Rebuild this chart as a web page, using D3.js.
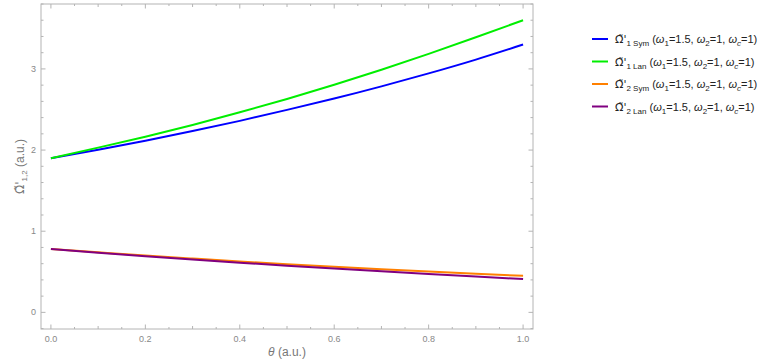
<!DOCTYPE html>
<html>
<head>
<meta charset="utf-8">
<script src="https://cdn.jsdelivr.net/npm/d3@7"></script>
<style>
  body { margin: 0; background: #fff; }
  svg { display: block; font-family: "Liberation Sans", "DejaVu Sans", sans-serif; }
  .tick-label { fill: #888; font-size: 9px; }
  .axis-title { fill: #777; font-size: 12px; }
  .legend-text { fill: #222; font-size: 11px; }
  .omega { font-family: "DejaVu Sans", sans-serif; }
</style>
</head>
<body>
<svg id="chart" width="763" height="363"></svg>
<script>
// values
const THETA = [0, 0.1, 0.2, 0.3, 0.4, 0.5, 0.6, 0.7, 0.8, 0.9, 1.0];
const OMEGA_1_SYM = [1.90, 2.005, 2.115, 2.235, 2.36, 2.495, 2.635, 2.785, 2.945, 3.115, 3.30];
const OMEGA_1_LAN = [1.90, 2.03, 2.165, 2.31, 2.465, 2.63, 2.805, 2.99, 3.185, 3.39, 3.60];
const OMEGA_2_SYM = [0.78, 0.74, 0.70, 0.663, 0.627, 0.593, 0.562, 0.532, 0.503, 0.476, 0.45];
const OMEGA_2_LAN = [0.78, 0.735, 0.692, 0.651, 0.612, 0.575, 0.54, 0.506, 0.473, 0.441, 0.41];

const X_TICKS = [0, 0.2, 0.4, 0.6, 0.8, 1.0];
const Y_TICKS = [0, 1, 2, 3];

const SERIES = [
  { sub: '1 Sym', values: OMEGA_1_SYM, color: '#0000ff' },
  { sub: '1 Lan', values: OMEGA_1_LAN, color: '#00ee00' },
  { sub: '2 Sym', values: OMEGA_2_SYM, color: '#ff8000' },
  { sub: '2 Lan', values: OMEGA_2_LAN, color: '#800080' }
];

const frame = { left: 41, right: 533, top: 4, bottom: 329 };

const svg = d3.select('#chart');

const xScale = d3.scaleLinear().domain([-0.021, 1.021]).range([frame.left, frame.right]);
const yScale = d3.scaleLinear().domain([-0.205, 3.8]).range([frame.bottom, frame.top]);

// frame
svg.append('rect')
  .attr('x', frame.left).attr('y', frame.top)
  .attr('width', frame.right - frame.left).attr('height', frame.bottom - frame.top)
  .attr('fill', 'none').attr('stroke', '#b4b4b4').attr('stroke-width', 1);

// ticks on all four sides
const ticksG = svg.append('g').attr('stroke', '#b4b4b4').attr('stroke-width', 1);
d3.range(0, 1.0001, 0.05).forEach((t) => {
  const major = X_TICKS.some((m) => Math.abs(m - t) < 1e-6);
  const half = Math.abs(Math.round(t * 10) - t * 10) < 1e-6;
  const len = major ? 4.5 : (half ? 3 : 2);
  const x = xScale(t);
  ticksG.append('line').attr('x1', x).attr('x2', x).attr('y1', frame.bottom).attr('y2', frame.bottom - len);
  ticksG.append('line').attr('x1', x).attr('x2', x).attr('y1', frame.top).attr('y2', frame.top + len);
});
d3.range(-0.2, 3.8001, 0.2).forEach((t) => {
  const major = Y_TICKS.some((m) => Math.abs(m - t) < 1e-6);
  const len = major ? 4.5 : 2.5;
  const y = yScale(t);
  ticksG.append('line').attr('x1', frame.left).attr('x2', frame.left + len).attr('y1', y).attr('y2', y);
  ticksG.append('line').attr('x1', frame.right).attr('x2', frame.right - len).attr('y1', y).attr('y2', y);
});

// tick labels
svg.append('g').selectAll('text')
  .data(X_TICKS)
  .enter()
  .append('text')
    .attr('class', 'tick-label')
    .attr('x', (d) => xScale(d))
    .attr('y', frame.bottom + 13)
    .attr('text-anchor', 'middle')
    .text((d) => d.toFixed(1));

svg.append('g').selectAll('text')
  .data(Y_TICKS)
  .enter()
  .append('text')
    .attr('class', 'tick-label')
    .attr('x', frame.left - 5)
    .attr('y', (d) => yScale(d) + 3)
    .attr('text-anchor', 'end')
    .text((d) => d);

// axis titles
const xTitle = svg.append('text')
  .attr('class', 'axis-title')
  .attr('x', (frame.left + frame.right) / 2)
  .attr('y', 356)
  .attr('text-anchor', 'middle');
xTitle.append('tspan').attr('font-style', 'italic').text('θ');
xTitle.append('tspan').text(' (a.u.)');

const yTitle = svg.append('text')
  .attr('class', 'axis-title')
  .attr('transform', `translate(24, ${ (frame.top + frame.bottom) / 2 }) rotate(-90)`)
  .attr('text-anchor', 'middle');
yTitle.append('tspan').attr('class', 'omega').text('Ω\u0303\'');
yTitle.append('tspan').attr('font-size', '8px').attr('dy', 3).text('1,2');
yTitle.append('tspan').attr('dy', -3).text(' (a.u.)');

// lines
const line = d3.line()
  .x((d, i) => xScale(THETA[i]))
  .y((d) => yScale(d))
  .curve(d3.curveNatural);

svg.append('g').selectAll('path')
  .data(SERIES)
  .enter()
  .append('path')
    .attr('d', (d) => line(d.values))
    .attr('fill', 'none')
    .attr('stroke', (d) => d.color)
    .attr('stroke-width', 2);

// legend
const legend = svg.append('g').selectAll('g')
  .data(SERIES)
  .enter()
  .append('g')
    .attr('transform', (d, i) => `translate(592, ${ 39 + i * 22.5 })`);

legend.append('line')
  .attr('x1', 0).attr('x2', 16)
  .attr('stroke', (d) => d.color)
  .attr('stroke-width', 2);

const label = legend.append('text')
  .attr('class', 'legend-text')
  .attr('x', 23)
  .attr('y', 4);
label.append('tspan').attr('class', 'omega').text('Ω\u0303\'');
label.append('tspan').attr('font-size', '8px').attr('dy', 3).text((d) => d.sub);
label.append('tspan').attr('dy', -3).text(' (');
label.append('tspan').attr('font-style', 'italic').text('ω');
label.append('tspan').attr('font-size', '8px').attr('dy', 3).text('1');
label.append('tspan').attr('dy', -3).text('=1.5, ');
label.append('tspan').attr('font-style', 'italic').text('ω');
label.append('tspan').attr('font-size', '8px').attr('dy', 3).text('2');
label.append('tspan').attr('dy', -3).text('=1, ');
label.append('tspan').attr('font-style', 'italic').text('ω');
label.append('tspan').attr('font-size', '8px').attr('font-style', 'italic').attr('dy', 3).text('c');
label.append('tspan').attr('dy', -3).text('=1)');
</script>
</body>
</html>
